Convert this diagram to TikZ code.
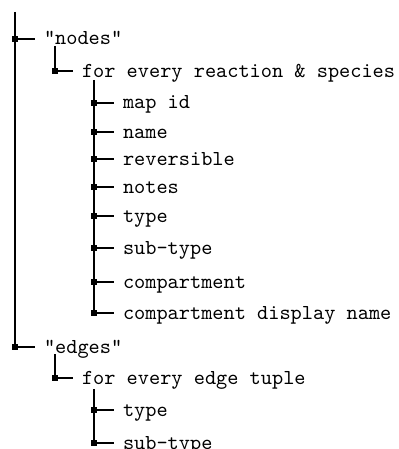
\documentclass[tikz,border=0pt]{standalone}
\begin{document}
\begin{tikzpicture}[x=0.5pt,y=-0.5pt,
  sq/.style={fill=black,minimum size=2.8pt,inner sep=0pt,outer sep=0pt},
  lbl/.style={anchor=base west,inner sep=0pt,outer sep=0pt,font=\fontsize{10.65}{12.5}\selectfont\ttfamily},
  tree/.style={line width=0.65pt},
  stub/.style={line width=0.6pt,shorten >=4.5pt}]
\useasboundingbox (0,0) rectangle (399,449);

% level one
\coordinate (top) at (15,12);
\node[sq] (sNodes) at (15,39) {};
\node[lbl] (tNodes) at (44,45) {"nodes"};
\node[sq] (sEdges) at (15,347) {};
\node[lbl] (tEdges) at (44,353) {"edges"};
\draw[tree] (top) -- (sEdges.center);
\draw[stub] (sNodes.center) -- (sNodes -| tNodes.west);
\draw[stub] (sEdges.center) -- (sEdges -| tEdges.west);

% level two
\coordinate (c2a) at (55,46);
\node[sq] (sReac) at (55,71) {};
\node[lbl] (tReac) at (82,77) {for every reaction \& species};
\draw[tree] (c2a) -- (sReac.center);
\draw[stub] (sReac.center) -- (sReac -| tReac.west);

\coordinate (c2b) at (55,354);
\node[sq] (sTup) at (55,378) {};
\node[lbl] (tTup) at (82,384) {for every edge tuple};
\draw[tree] (c2b) -- (sTup.center);
\draw[stub] (sTup.center) -- (sTup -| tTup.west);

% level three, reactions and species
\coordinate (c3a) at (94,80);
\foreach \nm/\yy/\txt in {a/103/map id, b/132/name, c/159/reversible, d/187/notes,
    e/216/type, f/248/sub-type, g/282/compartment, h/313/compartment display name} {
  \node[sq] (s\nm) at (94,\yy) {};
  \node[lbl] (t\nm) at (123,\yy+6) {\txt};
  \draw[stub] (s\nm.center) -- (s\nm -| t\nm.west);
}
\draw[tree] (c3a) -- (sh.center);

% level three, edge tuples
\coordinate (c3b) at (94,389);
\foreach \nm/\yy/\txt in {i/410/type, j/443/sub-type} {
  \node[sq] (s\nm) at (94,\yy) {};
  \node[lbl] (t\nm) at (123,\yy+6) {\txt};
  \draw[stub] (s\nm.center) -- (s\nm -| t\nm.west);
}
\draw[tree] (c3b) -- (sj.center);
\end{tikzpicture}
\end{document}
